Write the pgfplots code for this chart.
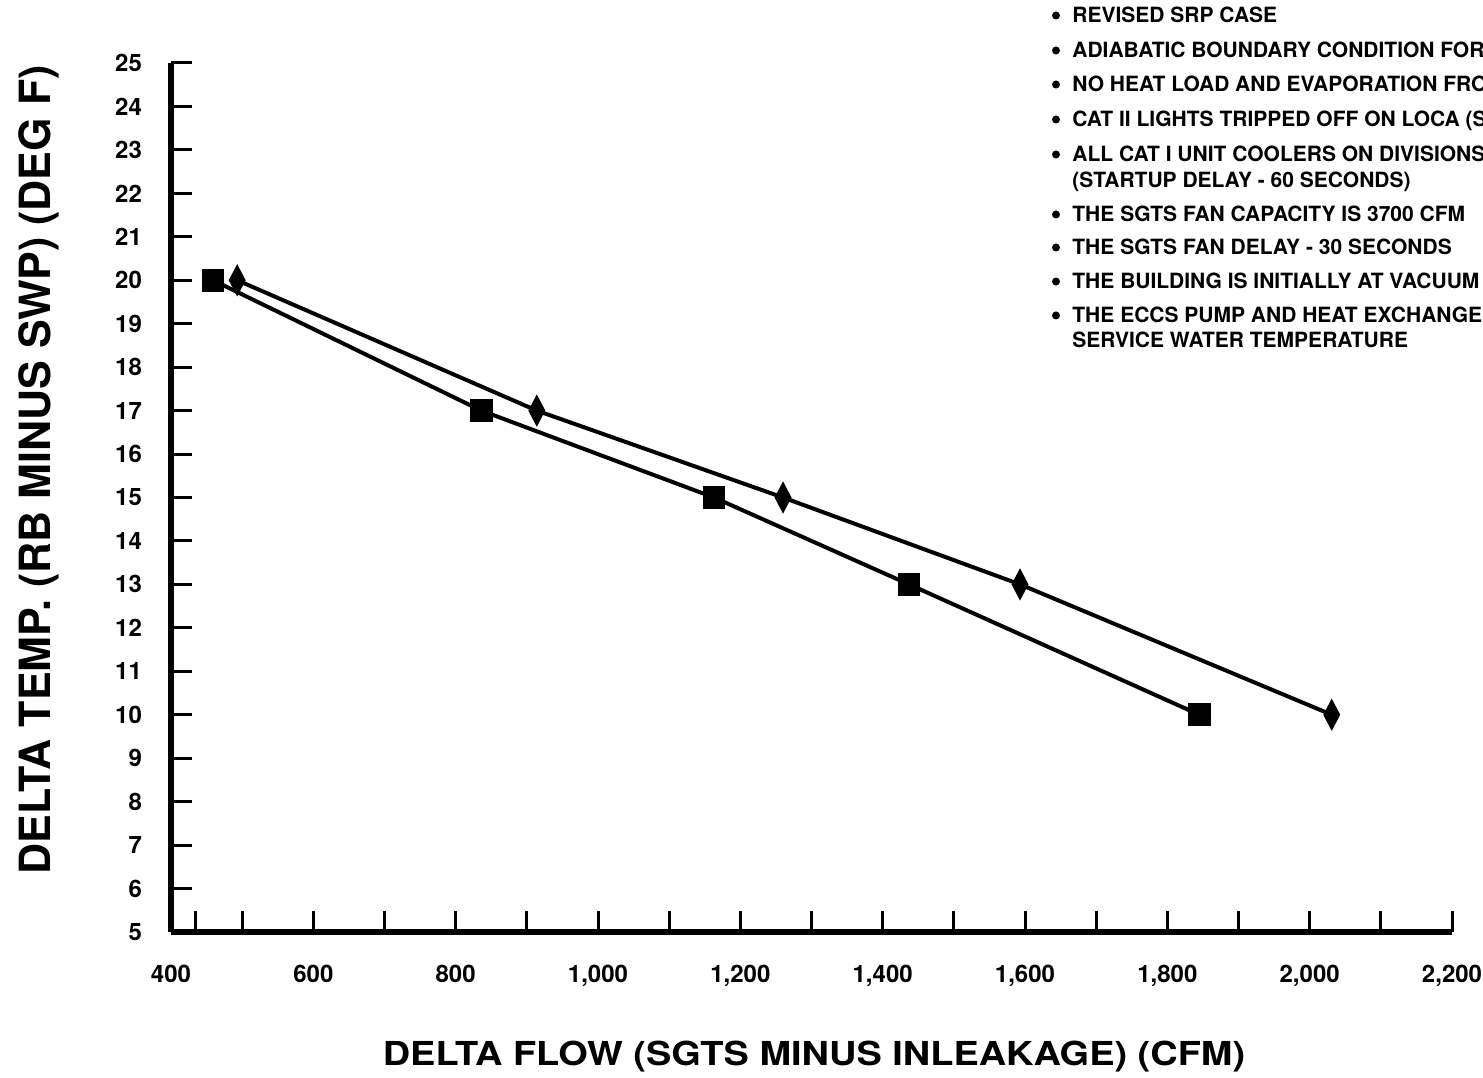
\documentclass[border=0pt]{standalone}
\usepackage{pgfplots}
\pgfplotsset{compat=1.18}
\usepackage{fontspec}
\setmainfont{TeX Gyre Heros}
\newcommand{\lf}{\bfseries\fontsize{10.5}{12}\selectfont}
\newcommand{\tf}{\bfseries\fontsize{12}{14}\selectfont}
\begin{document}
\begin{tikzpicture}
\useasboundingbox (0,0) rectangle (741.5pt,538.5pt);
\begin{axis}[
  at={(85.5pt,72.5pt)}, anchor=south west,
  scale only axis, width=640.5pt, height=434.5pt,
  xmin=400, xmax=2200, ymin=5, ymax=25,
  axis x line=bottom, axis y line=left,
  axis line style={line width=2.8pt, -},
  every outer x axis line/.append style={-},
  every outer y axis line/.append style={-},
  every inner x axis line/.append style={-},
  every inner y axis line/.append style={-},
  x axis line style={-}, y axis line style={-},
  xtick={400,600,...,2200},
  xticklabels={400,600,800,{1,000},{1,200},{1,400},{1,600},{1,800},{2,000},{2,200}},
  minor xtick={435,500,700,900,1100,1300,1500,1700,1900,2100},
  ytick={5,...,25},
  tick align=inside,
  major tick length=10.5pt, minor tick length=10.5pt,
  tick style={line width=1.5pt, black},
  every tick label/.append style={font=\tf},
  /pgf/number format/assume math mode=true,
  xticklabel style={yshift=-13pt},
  yticklabel style={xshift=-11pt},
  clip=false,
]
\addplot[black, line width=2pt, mark=square*, mark size=5.2pt, mark options={solid, line width=1pt}]
  coordinates {(459,20) (836,17) (1163,15) (1437,13) (1845,10)};
\addplot[black, line width=2pt, mark=diamond*, mark size=7pt, mark options={solid, line width=1pt, xscale=0.7}]
  coordinates {(493,20) (914,17) (1260,15) (1593,13) (2031,10)};
\end{axis}
\node[anchor=base, inner sep=0, font=\bfseries\fontsize{16.5}{20}\selectfont] at (407pt,6pt) {\scalebox{1.15}[1]{DELTA FLOW (SGTS MINUS INLEAKAGE) (CFM)}};
\node[anchor=base, rotate=90, inner sep=0, font=\bfseries\fontsize{21.5}{24}\selectfont] at (25pt,303.5pt) {DELTA TEMP. (RB MINUS SWP) (DEG F)};
\foreach \yy/\txt in {527/{REVISED SRP CASE},
  509.5/{ADIABATIC BOUNDARY CONDITION FOR},
  492.5/{NO HEAT LOAD AND EVAPORATION FRO},
  475/{CAT {\rmfamily II} LIGHTS TRIPPED OFF ON LOCA (S},
  457.5/{ALL CAT {\rmfamily I} UNIT COOLERS ON DIVISIONS},
  427.5/{THE SGTS FAN CAPACITY IS 3700 CFM},
  411/{THE SGTS FAN DELAY - 30 SECONDS},
  394/{THE BUILDING IS INITIALLY AT VACUUM},
  377/{THE ECCS PUMP AND HEAT EXCHANGER}} {
  \fill (528pt,\yy pt+3.75pt) circle (2pt);
  \node[anchor=base west, inner sep=0, font=\lf] at (536pt,\yy pt) {\txt};
}
\node[anchor=base west, inner sep=0, font=\lf] at (536pt,444.5pt) {(STARTUP DELAY - 60 SECONDS)};
\node[anchor=base west, inner sep=0, font=\lf] at (536pt,364.5pt) {SERVICE WATER TEMPERATURE};
\end{tikzpicture}
\end{document}
